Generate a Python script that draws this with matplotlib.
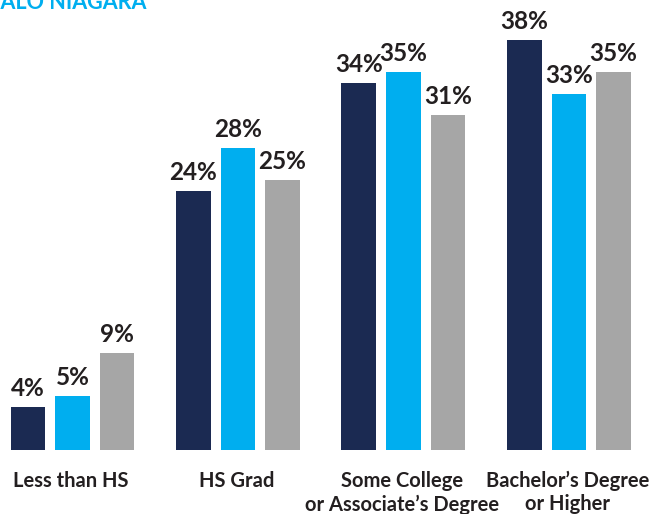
import matplotlib
matplotlib.use("Agg")
import matplotlib.pyplot as plt
import numpy as np

plt.rcParams['font.family'] = ['Lato', 'DejaVu Sans']

categories = ["Less than HS", "HS Grad", "Some College\nor Associate\u2019s Degree", "Bachelor\u2019s Degree\nor Higher"]
series_a = [4, 24, 34, 38]
series_b = [5, 28, 35, 33]
series_c = [9, 25, 31, 35]
colors = ["#1B2A52", "#00AEEF", "#A6A6A6"]
text_color = "#231F20"

fig = plt.figure(figsize=(6.59, 5.14), dpi=100)
ax = fig.add_axes([0, 64/514, 1, 450/514])

x = np.arange(len(categories))
w = 0.211
off = 0.269
for i, (vals, c) in enumerate(zip([series_a, series_b, series_c], colors)):
    pos = x + (i - 1) * off
    bars = ax.bar(pos, vals, width=w, color=c, zorder=2)
    for b, v in zip(bars, vals):
        ax.annotate(f"{v}%", (b.get_x() + b.get_width()/2, v), xytext=(0, 5),
                    textcoords="offset points", ha="center", va="bottom",
                    fontsize=17.5, fontweight="bold", color=text_color)

ax.set_xlim(-0.438, 3.544)
ax.set_ylim(0, 450/10.8)
ax.axis("off")

for xi, lab in zip(x, categories):
    for j, line in enumerate(lab.split("\n")):
        ax.annotate(line, (xi, 0), xytext=(-1, -15 - j * 17), textcoords="offset points",
                    ha="center", va="top", fontsize=14.5, fontweight="bold",
                    color=text_color)

fig.text(146/659, 1 - 9/514, "BUFFALO NIAGARA", ha="right", va="baseline",
         fontsize=15.5, fontweight="bold", color="#00AEEF")

fig.savefig("out.png", dpi=100)
